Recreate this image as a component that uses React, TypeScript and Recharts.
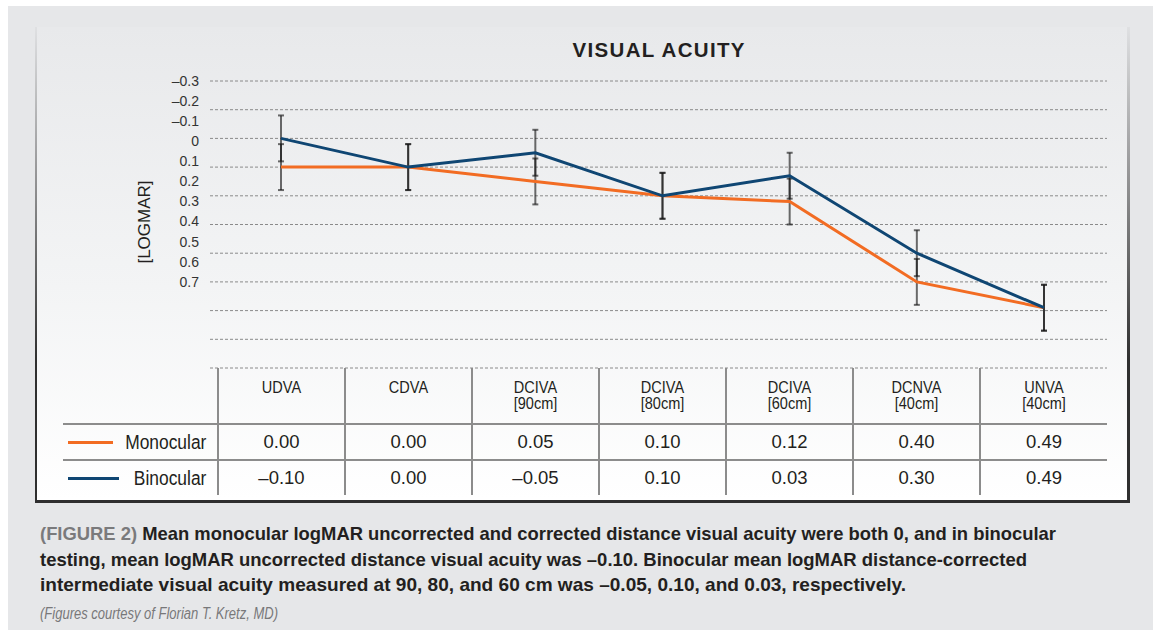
import React from 'react';
import { LineChart, Line, XAxis, YAxis, CartesianGrid, ErrorBar } from 'recharts';

// measurement names and table header lines
const categories = ['UDVA', 'CDVA', 'DCIVA [90cm]', 'DCIVA [80cm]', 'DCIVA [60cm]', 'DCNVA [40cm]', 'UNVA [40cm]'];
const headerLines = [['UDVA'], ['CDVA'], ['DCIVA', '[90cm]'], ['DCIVA', '[80cm]'], ['DCIVA', '[60cm]'], ['DCNVA', '[40cm]'], ['UNVA', '[40cm]']];

// mean logMAR
const monocular = [0.0, 0.0, 0.05, 0.1, 0.12, 0.4, 0.49];
const binocular = [-0.1, 0.0, -0.05, 0.1, 0.03, 0.3, 0.49];

// error bar half-ranges
const monocularErr = [0.08, 0.08, 0.08, 0.08, 0.08, 0.08, 0.08];
const binocularErr = [0.08, 0.08, 0.08, 0.08, 0.08, 0.08, 0.08];

// grid sits on the real scale, the printed labels are spaced tighter
const gridTicks = [-0.3, -0.2, -0.1, 0, 0.1, 0.2, 0.3, 0.4, 0.5, 0.6, 0.7];
const labelTicks = [-0.3, -0.2, -0.1, 0, 0.1, 0.2, 0.3, 0.4, 0.5, 0.6, 0.7];

const captionLines = [
  'Mean monocular logMAR uncorrected and corrected distance visual acuity were both 0, and in binocular',
  'testing, mean logMAR uncorrected distance visual acuity was \u20130.10. Binocular mean logMAR distance-corrected',
  'intermediate visual acuity measured at 90, 80, and 60 cm was \u20130.05, 0.10, and 0.03, respectively.',
];
const captionWidths = [1016, 987, 866];

const ORANGE = '#f26c23';
const NAVY = '#0f4673';
const SANS = '"Liberation Sans", Arial, sans-serif';

const data = categories.map((name, i) => ({
  name,
  monocular: monocular[i],
  binocular: binocular[i],
  monoErr: monocularErr[i],
  binoErr: binocularErr[i],
}));

const fmtValue = (v: number) => v.toFixed(2).replace('-', '\u2013');
const fmtTick = (v: number) => (v === 0 ? '0' : v.toFixed(1).replace('-', '\u2013'));

const cellLine = '2px solid #8c8c8c';

const App = () => {
  return (
    <div style={{ position: 'fixed', left: 8, top: 6, width: 1145, height: 624, background: '#e6e7e9', overflow: 'hidden' }}>
      {/* panel frame */}
      <div
        style={{
          position: 'absolute',
          left: 27,
          top: 21,
          width: 1095,
          height: 476,
          boxSizing: 'border-box',
          padding: '0 3px 3px 2px',
          background: 'linear-gradient(to bottom, rgba(60,60,60,0.04) 0%, rgba(50,50,50,0.5) 35%, #2f2f2f 70%)',
        }}
      >
        <div style={{ width: '100%', height: '100%', background: 'linear-gradient(to bottom, #e8e9eb 0%, #f3f4f5 55%, #ffffff 100%)' }} />
      </div>

      {/* Chart */}
      <div style={{ position: 'absolute', left: 0, top: 0 }}>
        <LineChart width={1145} height={420} data={data} margin={{ top: 75, right: 46, bottom: 58, left: 142 }}>
          <CartesianGrid yAxisId='data' vertical={false} stroke='#8a8a8a' strokeDasharray='3 2' />
          <XAxis dataKey='name' hide padding={{ left: 71, right: 63 }} />
          <YAxis
            yAxisId='label'
            reversed
            type='number'
            domain={[-0.3, 1.13]}
            ticks={labelTicks}
            interval={0}
            allowDataOverflow
            width={60}
            axisLine={false}
            tickLine={false}
            tickMargin={5}
            tickFormatter={fmtTick}
            tick={{ fill: '#333', fontSize: 14, fontFamily: SANS }}
          />
          <YAxis yAxisId='data' hide width={0} reversed type='number' domain={[-0.3, 0.7]} ticks={gridTicks} allowDataOverflow />
          <Line yAxisId='data' dataKey='monocular' stroke={ORANGE} strokeWidth={3} dot={false} isAnimationActive={false}>
            <ErrorBar dataKey='monoErr' width={3} strokeWidth={2} stroke='rgba(20,20,20,0.62)' isAnimationActive={false} />
          </Line>
          <Line yAxisId='data' dataKey='binocular' stroke={NAVY} strokeWidth={3} dot={false} isAnimationActive={false}>
            <ErrorBar dataKey='binoErr' width={3} strokeWidth={2} stroke='rgba(20,20,20,0.62)' isAnimationActive={false} />
          </Line>
        </LineChart>
      </div>

      {/* Data table */}
      <table
        style={{
          position: 'absolute',
          left: 55,
          top: 362,
          width: 1044,
          borderCollapse: 'collapse',
          tableLayout: 'fixed',
          color: '#231f20',
        }}
      >
        <colgroup>
          <col style={{ width: 155 }} />
          {categories.map((c) => (
            <col key={c} style={{ width: 127 }} />
          ))}
        </colgroup>
        <tbody>
          <tr style={{ height: 56 }}>
            <td />
            {headerLines.map((lines, i) => (
              <td
                key={i}
                style={{
                  borderLeft: cellLine,
                  verticalAlign: 'top',
                  textAlign: 'center',
                  paddingTop: 11,
                  fontFamily: SANS,
                  fontSize: 16.5,
                  lineHeight: '16px',
                }}
              >
                {lines.map((l) => (
                  <div key={l} style={{ transform: 'scaleX(0.88)' }}>
                    {l}
                  </div>
                ))}
              </td>
            ))}
          </tr>
          {[
            { label: 'Monocular', color: ORANGE, values: monocular },
            { label: 'Binocular', color: NAVY, values: binocular },
          ].map((row, r) => (
            <tr key={row.label} style={{ height: r === 0 ? 36 : 35 }}>
              <td style={{ borderTop: cellLine, padding: '0 11px 0 5px' }}>
                <div style={{ display: 'flex', alignItems: 'center', justifyContent: 'space-between' }}>
                  <div style={{ width: 51, height: 3, background: row.color }} />
                  <span
                    style={{
                      fontFamily: SANS,
                      fontSize: 20,
                      lineHeight: '22px',
                      display: 'inline-block',
                      transform: 'scaleX(0.87)',
                      transformOrigin: 'right center',
                    }}
                  >
                    {row.label}
                  </span>
                </div>
              </td>
              {row.values.map((v, i) => (
                <td
                  key={i}
                  style={{
                    borderTop: cellLine,
                    borderLeft: cellLine,
                    textAlign: 'center',
                    verticalAlign: 'middle',
                    fontFamily: SANS,
                    fontSize: 18.5,
                    padding: 0,
                  }}
                >
                  {fmtValue(v)}
                </td>
              ))}
            </tr>
          ))}
        </tbody>
      </table>

      {/* Title, axis title and caption */}
      <svg width={1145} height={624} style={{ position: 'absolute', left: 0, top: 0, pointerEvents: 'none' }}>
        <text
          x={650.5}
          y={50.5}
          textAnchor='middle'
          textLength={172}
          lengthAdjust='spacing'
          fontFamily={SANS}
          fontWeight={700}
          fontSize={20.5}
          fill='#231f20'
        >
          VISUAL ACUITY
        </text>
        <text x={142} y={216} transform='rotate(-90 142 216)' textAnchor='middle' fontFamily={SANS} fontSize={17} fill='#231f20'>
          [LOGMAR]
        </text>
        {captionLines.map((line, i) => (
          <text
            key={i}
            x={32}
            y={534 + i * 25.7}
            textLength={captionWidths[i]}
            lengthAdjust='spacingAndGlyphs'
            fontFamily={SANS}
            fontWeight={700}
            fontSize={18.6}
            fill='#231f20'
          >
            {i === 0 && <tspan fill='#7a7a7c'>(FIGURE 2) </tspan>}
            {line}
          </text>
        ))}
        <text
          x={32}
          y={613.3}
          textLength={238}
          lengthAdjust='spacingAndGlyphs'
          fontFamily={SANS}
          fontStyle='italic'
          fontSize={16.7}
          fill='#78787a'
        >
          (Figures courtesy of Florian T. Kretz, MD)
        </text>
      </svg>
    </div>
  );
};

export default App;
